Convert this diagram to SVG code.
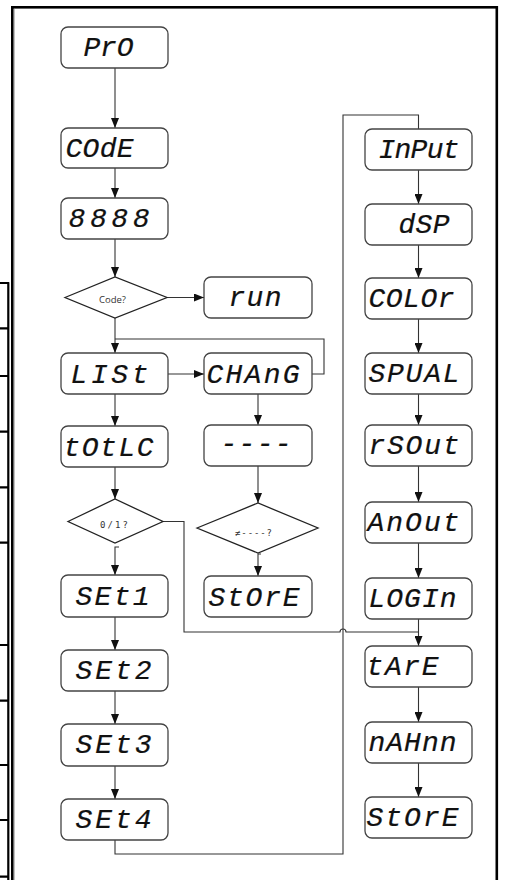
<svg xmlns="http://www.w3.org/2000/svg" width="507" height="880" viewBox="0 0 507 880">
<defs>
<marker id="ah" markerUnits="userSpaceOnUse" markerWidth="10" markerHeight="8" refX="10" refY="4" orient="auto">
<path d="M0,0 L10,4 L0,8 z" fill="#111"/>
</marker>
<style>
.box{fill:#fff;stroke:#444;stroke-width:1.3}
.dia{fill:#fff;stroke:#222;stroke-width:1.3}
.seg{font-family:"Liberation Mono","DejaVu Sans Mono",monospace;font-style:italic;font-size:28px;fill:#111;stroke:#111;stroke-width:0.2}
.q{font-family:"Open Sans","Liberation Sans",sans-serif;font-size:9.5px;fill:#333}
.qm{font-family:"DejaVu Sans Mono","Liberation Mono",monospace;font-size:9px;fill:#333}
.ln{fill:none;stroke:#333;stroke-width:1.1}
.arr{fill:none;stroke:#333;stroke-width:1.1;marker-end:url(#ah)}
.frame{fill:none;stroke:#000;stroke-width:2.6}
.tick{fill:none;stroke:#000;stroke-width:2.2}
</style>
</defs>
<rect width="507" height="880" fill="#fff"/>
<g id="frame">
<rect class="frame" x="12.3" y="7.3" width="484.5" height="900"/>
<line x1="14.4" y1="9" x2="14.4" y2="880" stroke="#aaa" stroke-width="0.8"/>
<path class="tick" d="M8.3,283 V880 M0,283 H9.3 M0,328.3 H9.3 M0,376 H9.3 M0,431.7 H9.3 M0,487.3 H9.3 M0,542.7 H9.3 M0,645 H9.3 M0,700.7 H9.3 M0,765 H9.3 M0,820 H9.3 M0,876.7 H9.3"/>
</g>
<g id="connectors">
<path class="arr" d="M115,68 V128"/>
<path class="arr" d="M115,168 V198"/>
<path class="arr" d="M115,239 V277"/>
<path class="arr" d="M167,297.5 H204"/>
<path class="arr" d="M115,318 V353"/>
<path class="ln" d="M312,374 H324 V339 H115"/>
<path class="arr" d="M168,374 H204"/>
<path class="arr" d="M115,394 V426"/>
<path class="arr" d="M115,467 V499"/>
<path class="arr" d="M119,547 H115 V575"/>
<path class="arr" d="M258,394 V425"/>
<path class="arr" d="M258,466 V503"/>
<path class="arr" d="M261,554 H258 V576"/>
<path class="ln" d="M163,521.5 H184 V632 H340 A3,3 0 0 1 346,632 H418.5"/>
<path class="arr" d="M115,617 V650"/>
<path class="arr" d="M115,691 V724"/>
<path class="arr" d="M115,766 V799"/>
<path class="ln" d="M115,840 V854 H343 V115 H418.5 V129"/>
<path class="arr" d="M418.5,170 V204"/>
<path class="arr" d="M418.5,245 V278"/>
<path class="arr" d="M418.5,319 V353"/>
<path class="arr" d="M418.5,394 V425"/>
<path class="arr" d="M418.5,466 V502"/>
<path class="arr" d="M418.5,543 V578"/>
<path class="arr" d="M418.5,619 V646"/>
<path class="arr" d="M418.5,687 V722"/>
<path class="arr" d="M418.5,763 V797"/>
</g>
<g id="n-pro"><rect class="box" x="61" y="27" width="107" height="41" rx="7"/><text class="seg" x="83.5" y="56" textLength="50" lengthAdjust="spacing">PrO</text></g>
<g id="n-code"><rect class="box" x="61" y="128" width="107" height="40" rx="7"/><text class="seg" x="65.5" y="157" textLength="68" lengthAdjust="spacing">COdE</text></g>
<g id="n-8888"><rect class="box" x="61" y="198" width="107" height="41" rx="7"/><text class="seg" x="68.5" y="227" textLength="81" lengthAdjust="spacing">8888</text></g>
<g id="d-code"><polygon class="dia" points="65,297.5 115,277 167,297.5 115,318"/><text class="q" x="99" y="303">Code?</text></g>
<g id="n-run"><rect class="box" x="204" y="277" width="108" height="41" rx="7"/><text class="seg" x="228.5" y="306" textLength="53" lengthAdjust="spacing">run</text></g>
<g id="n-list"><rect class="box" x="61" y="353" width="107" height="41" rx="7"/><text class="seg" x="70.5" y="382.5" textLength="78" lengthAdjust="spacing">LISt</text></g>
<g id="n-chang"><rect class="box" x="204" y="353" width="108" height="41" rx="7"/><text class="seg" x="206.5" y="383" textLength="93" lengthAdjust="spacing">CHAnG</text></g>
<g id="n-totlc"><rect class="box" x="61" y="426" width="107" height="41" rx="7"/><text class="seg" x="63.5" y="455.5" textLength="90" lengthAdjust="spacing">tOtLC</text></g>
<g id="n-dash"><rect class="box" x="204" y="425" width="108" height="41" rx="7"/><text class="seg" x="220.5" y="452" textLength="71" lengthAdjust="spacing">----</text></g>
<g id="d-01"><polygon class="dia" points="68,521.5 115,499 163,521.5 115,543"/><text class="qm" x="100" y="528" textLength="28" lengthAdjust="spacing">0/1?</text></g>
<g id="d-ne"><polygon class="dia" points="197,528 258,503 318,528 258,553"/><text class="qm" x="235" y="536" textLength="37" lengthAdjust="spacing">≠----?</text></g>
<g id="n-store1"><rect class="box" x="204" y="576" width="108" height="41" rx="7"/><text class="seg" x="208.5" y="605.5" textLength="91" lengthAdjust="spacing">StOrE</text></g>
<g id="n-set1"><rect class="box" x="61" y="575" width="107" height="42" rx="7"/><text class="seg" x="75.5" y="604.5" textLength="74" lengthAdjust="spacing">SEt1</text></g>
<g id="n-set2"><rect class="box" x="61" y="650" width="107" height="41" rx="7"/><text class="seg" x="75.5" y="679" textLength="76" lengthAdjust="spacing">SEt2</text></g>
<g id="n-set3"><rect class="box" x="61" y="724" width="107" height="42" rx="7"/><text class="seg" x="75.5" y="753" textLength="76" lengthAdjust="spacing">SEt3</text></g>
<g id="n-set4"><rect class="box" x="61" y="799" width="107" height="41" rx="7"/><text class="seg" x="75.5" y="828" textLength="76" lengthAdjust="spacing">SEt4</text></g>
<g id="n-input"><rect class="box" x="365" y="129" width="107" height="41" rx="7"/><text class="seg" x="378.5" y="158" textLength="81" lengthAdjust="spacing">InPut</text></g>
<g id="n-dsp"><rect class="box" x="365" y="204" width="107" height="41" rx="7"/><text class="seg" x="398.5" y="233" textLength="51" lengthAdjust="spacing">dSP</text></g>
<g id="n-color"><rect class="box" x="365" y="278" width="107" height="41" rx="7"/><text class="seg" x="368.5" y="307" textLength="86" lengthAdjust="spacing">COLOr</text></g>
<g id="n-spual"><rect class="box" x="365" y="353" width="107" height="41" rx="7"/><text class="seg" x="368.5" y="382" textLength="91" lengthAdjust="spacing">SPUAL</text></g>
<g id="n-rsout"><rect class="box" x="365" y="425" width="107" height="41" rx="7"/><text class="seg" x="368.5" y="454" textLength="91" lengthAdjust="spacing">rSOut</text></g>
<g id="n-anout"><rect class="box" x="365" y="502" width="107" height="41" rx="7"/><text class="seg" x="367.5" y="531" textLength="92" lengthAdjust="spacing">AnOut</text></g>
<g id="n-login"><rect class="box" x="365" y="578" width="107" height="41" rx="7"/><text class="seg" x="368.5" y="607" textLength="88" lengthAdjust="spacing">LOGIn</text></g>
<g id="n-tare"><rect class="box" x="365" y="646" width="107" height="41" rx="7"/><text class="seg" x="366.5" y="675" textLength="72" lengthAdjust="spacing">tArE</text></g>
<g id="n-max"><rect class="box" x="365" y="722" width="107" height="41" rx="7"/><text class="seg" x="368.5" y="751" textLength="88" lengthAdjust="spacing">nAHnn</text></g>
<g id="n-store2"><rect class="box" x="365" y="797" width="107" height="41" rx="7"/><text class="seg" x="366.5" y="826" textLength="92" lengthAdjust="spacing">StOrE</text></g>
</svg>
